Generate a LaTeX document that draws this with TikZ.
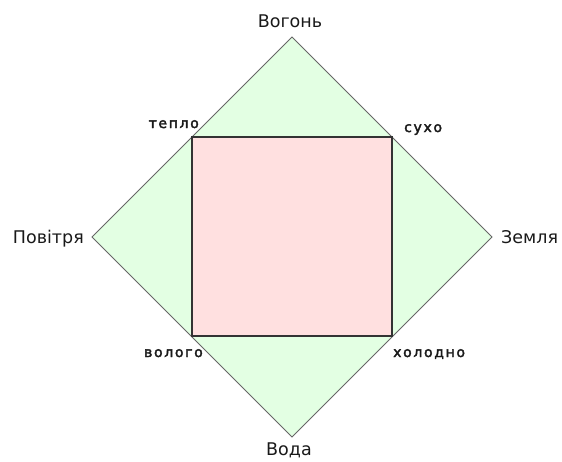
\documentclass[tikz,border=0pt]{standalone}
\usepackage{fontspec}
\setmainfont{DejaVu Sans}
\newfontfamily\smallfont[LetterSpace=12,FakeBold=2.5]{DejaVu Sans}
\begin{document}
\begin{tikzpicture}[x=1pt,y=-1pt,
  big/.style={font=\fontsize{17.5}{19}\selectfont, inner sep=0pt, text=black!90},
  small/.style={font=\smallfont\fontsize{14}{16}\selectfont, inner sep=0pt, text=black!90},
  diam/.style={draw=black!60, fill=green!11, line width=0.9pt, line join=miter},
  sq/.style={draw=black!80, fill=red!12, line width=1.6pt}]
\useasboundingbox (0,0) rectangle (562,461);
\coordinate (T) at (292,37);
\coordinate (L) at (92,237);
\coordinate (R) at (492,237);
\coordinate (B) at (292,437);
\coordinate (tl) at (192,137);
\coordinate (tr) at (392,137);
\coordinate (br) at (392,336);
\coordinate (bl) at (192,336);
\draw[diam] (T) -- (R) -- (B) -- (L) -- cycle;
\draw[sq] (tl) -- (tr) -- (br) -- (bl) -- cycle;
\node[big, anchor=base] (fire) at (290,27) {Вогонь};
\node[big, anchor=base east] (air) at (84,243) {Повітря};
\node[big, anchor=base west] (earth) at (501,243) {Земля};
\node[big, anchor=base] (water) at (289,455) {Вода};
\node[small, anchor=base east] (warm) at (199,128) {тепло};
\node[small, anchor=base west] (dry) at (404,132) {сухо};
\node[small, anchor=base east] (wet) at (203,357) {волого};
\node[small, anchor=base west] (cold) at (393,357) {холодно};
\end{tikzpicture}
\end{document}
